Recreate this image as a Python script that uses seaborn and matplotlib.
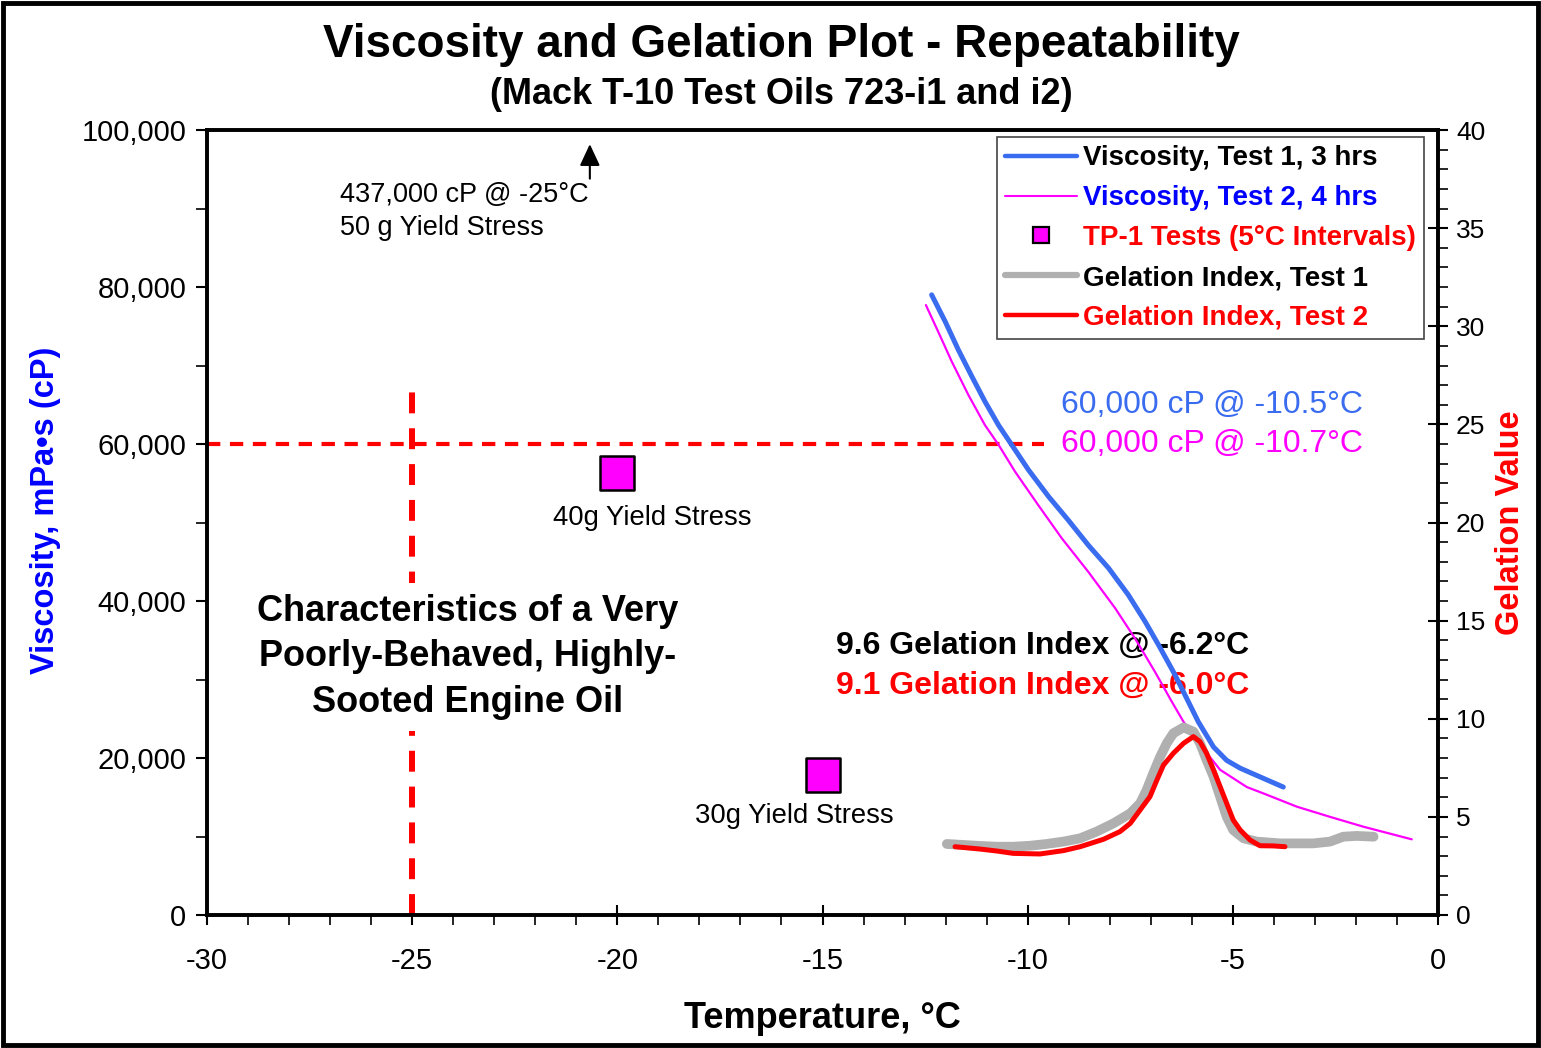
import matplotlib
matplotlib.use("Agg")
import matplotlib.pyplot as plt
import seaborn as sns
import numpy as np
import pandas as pd
from matplotlib.lines import Line2D
from matplotlib.ticker import FuncFormatter, MultipleLocator
from matplotlib.patches import Rectangle

# ---------------- data ----------------
visc1_temp = [-12.34, -12.01, -11.69, -11.36, -11.04, -10.71, -10.39, -9.98, -9.49, -9.01, -8.52, -8.03,
              -7.55, -7.14, -6.81, -6.41, -5.84, -5.47, -5.15, -4.82, -4.34, -3.77]
visc1_cp = [79000, 75600, 72000, 68600, 65400, 62400, 59900, 56700, 53300, 50300, 47100, 44200,
            40800, 37400, 34400, 30600, 24600, 21400, 19700, 18700, 17600, 16300]

visc2_temp = [-12.48, -12.18, -11.85, -11.44, -11.04, -10.71, -10.31, -9.74, -9.17, -8.52, -7.87, -7.38,
              -6.90, -6.49, -6.20, -5.80, -5.31, -4.66, -4.26, -3.44, -2.63, -1.82, -0.64]
visc2_cp = [77700, 74300, 70500, 66200, 62400, 59900, 56500, 52200, 48000, 43700, 39100, 35200,
            31000, 27200, 24600, 21700, 18500, 16300, 15500, 13800, 12500, 11250, 9640]

gel1_temp = [-11.97, -11.57, -11.16, -10.75, -10.35, -9.94, -9.54, -9.13, -8.72, -8.32, -7.91, -7.50,
             -7.26, -7.10, -6.94, -6.77, -6.61, -6.45, -6.20, -5.96, -5.80, -5.64, -5.47, -5.31,
             -5.15, -4.99, -4.74, -4.42, -3.85, -3.04, -2.63, -2.31, -1.98, -1.57]
gel1_val = [3.62, 3.57, 3.52, 3.48, 3.48, 3.53, 3.62, 3.74, 3.91, 4.25, 4.67, 5.18,
            5.69, 6.37, 7.22, 8.07, 8.75, 9.26, 9.56, 9.34, 8.75, 7.90, 7.05, 6.03,
            5.01, 4.33, 3.91, 3.74, 3.65, 3.65, 3.74, 3.99, 4.03, 3.99]

gel2_temp = [-11.77, -11.16, -10.75, -10.35, -9.70, -9.13, -8.72, -8.15, -7.75, -7.50, -7.26, -7.02,
             -6.85, -6.69, -6.45, -6.20, -5.96, -5.80, -5.64, -5.47, -5.31, -5.15, -4.99, -4.82,
             -4.58, -4.34, -4.01, -3.73]
gel2_val = [3.48, 3.36, 3.26, 3.14, 3.11, 3.28, 3.48, 3.86, 4.25, 4.67, 5.35, 6.03,
            6.88, 7.64, 8.24, 8.75, 9.09, 8.83, 8.24, 7.39, 6.54, 5.69, 4.84, 4.33,
            3.82, 3.53, 3.52, 3.48]

tp1_temp = [-20, -15]
tp1_cp = [56300, 17800]

ref_visc = 60000
ref_temp = -25

legend_labels = ["Viscosity, Test 1, 3 hrs", "Viscosity, Test 2, 4 hrs",
                 "TP-1 Tests (5°C Intervals)", "Gelation Index, Test 1", "Gelation Index, Test 2"]

# ---------------- style ----------------
sns.set_theme(style="white")
plt.rcParams['font.family'] = ['Liberation Sans', 'DejaVu Sans']
plt.rcParams['text.color'] = 'black'
plt.rcParams['axes.labelcolor'] = 'black'
plt.rcParams['xtick.color'] = 'black'
plt.rcParams['ytick.color'] = 'black'

fig = plt.figure(figsize=(15.41, 10.48), dpi=100)
ax = fig.add_axes([207/1541, 1-915/1048, (1438-207)/1541, (915-130)/1048])
ax2 = ax.twinx()

BLUE = "#3a6cf0"
MAG = "#ff00ff"
RED = "#ff0000"
GRAY = "#b0b0b0"

# reference dashed lines
ax.plot([-30, -9.6], [ref_visc, ref_visc], color=RED, lw=3, dashes=(3.2, 2.3), zorder=2)
ax.plot([ref_temp, ref_temp], [0, 67500], color=RED, lw=4.3, dashes=(3.5, 2.5), zorder=2)

# viscosity curves
sns.lineplot(x=visc2_temp, y=visc2_cp, ax=ax, sort=False, estimator=None, color=MAG, lw=1.6, zorder=4)
sns.lineplot(x=visc1_temp, y=visc1_cp, ax=ax, sort=False, estimator=None, color=BLUE, lw=3.6, zorder=5)
sns.scatterplot(x=tp1_temp, y=tp1_cp, ax=ax, marker='s', s=620, color=MAG, edgecolor='black', linewidth=1.8, zorder=6)

# gelation curves
sns.lineplot(x=gel1_temp, y=gel1_val, ax=ax2, sort=False, estimator=None, color=GRAY, lw=7, zorder=3)
sns.lineplot(x=gel2_temp, y=gel2_val, ax=ax2, sort=False, estimator=None, color=RED, lw=3.6, zorder=4)

# axes limits / ticks
ax.set_xlim(-30, 0)
ax.set_ylim(0, 100000)
ax2.set_ylim(0, 40)
ax.xaxis.set_major_locator(MultipleLocator(5))
ax.xaxis.set_minor_locator(MultipleLocator(1))
ax.yaxis.set_major_locator(MultipleLocator(20000))
ax.yaxis.set_minor_locator(MultipleLocator(10000))
ax2.yaxis.set_major_locator(MultipleLocator(5))
ax2.yaxis.set_minor_locator(MultipleLocator(1))
ax.yaxis.set_major_formatter(FuncFormatter(lambda v, p: f"{int(v):,}"))
ax.xaxis.set_major_formatter(FuncFormatter(lambda v, p: f"{int(v)}"))

ax.tick_params(axis='x', which='major', direction='inout', length=14, width=1.5, labelsize=21, pad=16, bottom=True)
ax.tick_params(axis='x', which='minor', direction='out', length=7, width=1.2, bottom=True)
ax.tick_params(axis='y', which='major', direction='out', length=8, width=1.5, labelsize=21, pad=7, left=True)
ax.tick_params(axis='y', which='minor', direction='out', length=8, width=1.2, left=True)
ax2.tick_params(axis='y', which='major', direction='inout', length=14, width=1.5, labelsize=19, right=True, pad=6)
ax2.tick_params(axis='y', which='minor', direction='out', length=7, width=1.2, right=True)

for a in (ax, ax2):
    for s in a.spines.values():
        s.set_color('black')
        s.set_linewidth(2.6)
    a.grid(False)

ax.set_xlabel("Temperature, °C", fontsize=26, fontweight='bold', labelpad=19)
ax.set_ylabel("Viscosity, mPa•s (cP)", fontsize=23.5, fontweight='bold', color='#0000ff')
ax2.set_ylabel("Gelation Value", fontsize=23.5, fontweight='bold', color=RED)
ax.yaxis.set_label_coords(-0.119, 0.516)
ax2.yaxis.set_label_coords(1.046, 0.50)

# titles
fig.text(0.507, 0.957, "Viscosity and Gelation Plot - Repeatability", ha='center', va='center',
         fontsize=33, fontweight='bold')
fig.text(0.507, 0.910, "(Mack T-10 Test Oils 723-i1 and i2)", ha='center', va='center',
         fontsize=26, fontweight='bold')

# annotations
ax.annotate("", xy=(-20.67, 98200), xytext=(-20.67, 93800),
            arrowprops=dict(arrowstyle='-|>,head_length=0.6,head_width=0.28', color='black', lw=1.5,
                            mutation_scale=22, shrinkA=0, shrinkB=0))
ax.text(-26.76, 89600, "437,000 cP @ -25°C\n50 g Yield Stress", fontsize=19.5, ha='left', va='center',
        linespacing=1.34)
ax.text(-19.15, 50600, "40g Yield Stress", fontsize=19.8, ha='center', va='center')
ax.text(-15.69, 12600, "30g Yield Stress", fontsize=19.8, ha='center', va='center')
ax.text(-23.64, 32900, "Characteristics of a Very\nPoorly-Behaved, Highly-\nSooted Engine Oil",
        fontsize=26, fontweight='bold', ha='center', va='center', linespacing=1.385,
        bbox=dict(facecolor='white', edgecolor='none', pad=8), zorder=3)
ax.text(-1.83, 65000, "60,000 cP @ -10.5°C", fontsize=23, color=BLUE, ha='right', va='center')
ax.text(-1.83, 60000, "60,000 cP @ -10.7°C", fontsize=23, color=MAG, ha='right', va='center')
ax.text(-14.67, 34300, "9.6 Gelation Index @ -6.2°C", fontsize=23, fontweight='bold', color='black',
        ha='left', va='center')
ax.text(-14.67, 29200, "9.1 Gelation Index @ -6.0°C", fontsize=23, fontweight='bold', color=RED,
        ha='left', va='center')

# legend
handles = [
    Line2D([], [], color=BLUE, lw=3.2),
    Line2D([], [], color=MAG, lw=1.5),
    Line2D([], [], color=MAG, marker='s', ls='none', markersize=11.5, markeredgecolor='black', markeredgewidth=1.6),
    Line2D([], [], color=GRAY, lw=4.5),
    Line2D([], [], color=RED, lw=3.2),
]
leg = ax2.legend(handles, legend_labels, loc='upper right', bbox_to_anchor=(0.9885, 0.991),
                 frameon=True, fancybox=False, edgecolor='#444444', framealpha=1,
                 prop=dict(family='Liberation Sans', weight='bold', size=20),
                 handlelength=2.6, handletextpad=0.2, labelspacing=0.5, borderpad=0.3,
                 borderaxespad=0)
leg.get_frame().set_linewidth(1.2)
for t, c in zip(leg.get_texts(), ['black', '#0000ff', RED, 'black', RED]):
    t.set_color(c)

# figure border
fig.patches.append(Rectangle((0.002, 0.003), 0.996, 0.994, transform=fig.transFigure,
                             fill=False, edgecolor='black', lw=3.5))

fig.savefig("out.png", dpi=100, facecolor='white')
